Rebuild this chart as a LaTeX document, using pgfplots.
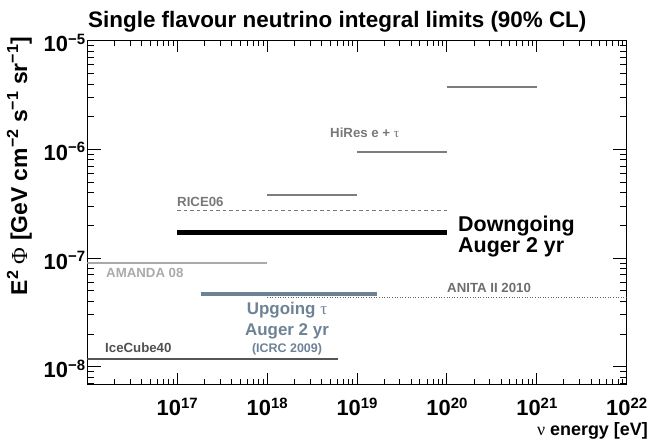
\documentclass[border=0pt]{standalone}
\usepackage{pgfplots}
\pgfplotsset{compat=1.18}
\usepackage{fontspec}
\setmainfont{Liberation Sans}
\newfontfamily\grk{Liberation Serif}
\definecolor{slate}{RGB}{110,130,150}
\newcommand{\fs}[1]{\fontsize{#1}{#1}\selectfont}
\newcommand{\ee}[1]{10\smash{\raisebox{7.5bp}{\fs{15}#1}}}
\begin{document}
\begin{tikzpicture}
\path[use as bounding box] (0,0) rectangle (652bp,-446bp);
% y ticks axis
\begin{axis}[
  xmode=log, ymode=log,
  xmin=1e16, xmax=1e22, ymin=6.9e-9, ymax=1e-5,
  scale only axis, width=539.4bp, height=343.6bp,
  at={(87.3bp,-384.3bp)}, anchor=south west,
  tick align=inside,
  axis line style={line width=1.3bp},
  every tick/.style={black, line width=0.9bp},
  xtick=\empty,
  ytick={1e-8,1e-7,1e-6,1e-5},
  yticklabels={\ee{−8},\ee{−7},\ee{−6},\ee{−5}},
  minor ytick={7e-9,8e-9,9e-9,2e-8,3e-8,4e-8,5e-8,6e-8,7e-8,8e-8,9e-8,2e-7,3e-7,4e-7,5e-7,6e-7,7e-7,8e-7,9e-7,2e-6,3e-6,4e-6,5e-6,6e-6,7e-6,8e-6,9e-6},
  major tick length=14bp, minor tick length=7bp,
  yticklabel style={font=\fs{22}\bfseries, anchor=east, inner sep=0pt, xshift=-2bp, yshift=-3.5bp},
]
\end{axis}
% data axis with x ticks
\begin{axis}[
  xmode=log, ymode=log,
  xmin=1e16, xmax=1e22, ymin=6.9e-9, ymax=1e-5,
  scale only axis, width=539.4bp, height=343.6bp,
  at={(87.3bp,-384.3bp)}, anchor=south west,
  tick align=inside,
  axis line style={line width=1.3bp},
  every tick/.style={black, line width=0.9bp},
  ytick=\empty,
  xtick={1e16,1e17,1e18,1e19,1e20,1e21,1e22},
  xticklabels={,\ee{17},\ee{18},\ee{19},\ee{20},\ee{21},\ee{22}},
  minor xtick={2e16,3e16,4e16,5e16,6e16,7e16,8e16,9e16,2e17,3e17,4e17,5e17,6e17,7e17,8e17,9e17,2e18,3e18,4e18,5e18,6e18,7e18,8e18,9e18,2e19,3e19,4e19,5e19,6e19,7e19,8e19,9e19,2e20,3e20,4e20,5e20,6e20,7e20,8e20,9e20,2e21,3e21,4e21,5e21,6e21,7e21,8e21,9e21},
  major tick length=11bp, minor tick length=5.5bp,
  xticklabel style={font=\fs{22}\bfseries, anchor=north, inner sep=0pt, yshift=-15.7bp},
]
% IceCube40
\addplot[color={rgb,255:red,85;green,85;blue,85}, line width=1.8bp] coordinates {(1e16,1.18e-8) (6.2e18,1.18e-8)};
% AMANDA 08
\addplot[color={rgb,255:red,170;green,170;blue,170}, line width=1.8bp] coordinates {(1e16,8.95e-8) (1e18,8.95e-8)};
% ANITA II 2010
\addplot[color={rgb,255:red,100;green,100;blue,100}, line width=1.3bp, dash pattern=on 1bp off 1.6bp] coordinates {(1e18,4.35e-8) (1e22,4.35e-8)};
% Upgoing tau Auger
\addplot[color=slate, line width=4.6bp] coordinates {(1.82e17,4.67e-8) (1.68e19,4.67e-8)};
% RICE06
\addplot[color={rgb,255:red,120;green,120;blue,120}, line width=1.4bp, dash pattern=on 3.5bp off 3bp] coordinates {(1e17,2.73e-7) (1e20,2.73e-7)};
% Downgoing Auger
\addplot[color=black, line width=4.6bp] coordinates {(1e17,1.73e-7) (1e20,1.73e-7)};
% HiRes e + tau
\addplot[color={rgb,255:red,125;green,125;blue,125}, line width=1.8bp] coordinates {(1e18,3.78e-7) (1e19,3.78e-7)};
\addplot[color={rgb,255:red,125;green,125;blue,125}, line width=1.8bp] coordinates {(1e19,9.5e-7) (1e20,9.5e-7)};
\addplot[color={rgb,255:red,125;green,125;blue,125}, line width=1.8bp] coordinates {(1e20,3.73e-6) (1e21,3.73e-6)};
\end{axis}
% title and axis labels
\node[anchor=base west, inner sep=0pt, font=\fs{22.5}\bfseries] at (88bp,-27bp) {Single flavour neutrino integral limits (90\% CL)};
\node[anchor=base east, inner sep=0pt, font=\fs{18}\bfseries] at (648bp,-435bp) {{\grk\mdseries ν} energy [eV]};
\node[anchor=base, rotate=90, inner sep=0pt, font=\fs{23}\bfseries] at (27bp,-166bp) {E\textsuperscript{2} {\grk\mdseries Φ} [GeV cm\textsuperscript{−2} s\textsuperscript{−1} sr\textsuperscript{−1}]};
% annotations
\node[anchor=base west, inner sep=0pt, font=\fs{13.3}\bfseries, text={rgb,255:red,120;green,120;blue,120}] at (330bp,-137bp) {HiRes e + {\grk\mdseries τ}};
\node[anchor=base west, inner sep=0pt, font=\fs{13.3}\bfseries, text={rgb,255:red,120;green,120;blue,120}] at (177bp,-206bp) {RICE06};
\node[anchor=base west, inner sep=0pt, font=\fs{13.3}\bfseries, text={rgb,255:red,170;green,170;blue,170}] at (106bp,-277bp) {AMANDA 08};
\node[anchor=base west, inner sep=0pt, font=\fs{13.3}\bfseries, text={rgb,255:red,110;green,110;blue,110}] at (447bp,-292bp) {ANITA II 2010};
\node[anchor=base west, inner sep=0pt, font=\fs{13.3}\bfseries, text={rgb,255:red,80;green,80;blue,80}] at (105bp,-352bp) {IceCube40};
\node[anchor=base west, inner sep=0pt, font=\fs{21.5}\bfseries] at (458bp,-231bp) {Downgoing};
\node[anchor=base west, inner sep=0pt, font=\fs{21.5}\bfseries] at (458bp,-252bp) {Auger 2 yr};
\node[anchor=base, inner sep=0pt, font=\fs{17}\bfseries, text=slate] at (287bp,-314bp) {Upgoing {\grk\mdseries τ}};
\node[anchor=base, inner sep=0pt, font=\fs{17}\bfseries, text=slate] at (287bp,-335bp) {Auger 2 yr};
\node[anchor=base, inner sep=0pt, font=\fs{12.5}\bfseries, text=slate] at (287bp,-352bp) {(ICRC 2009)};
\end{tikzpicture}
\end{document}
